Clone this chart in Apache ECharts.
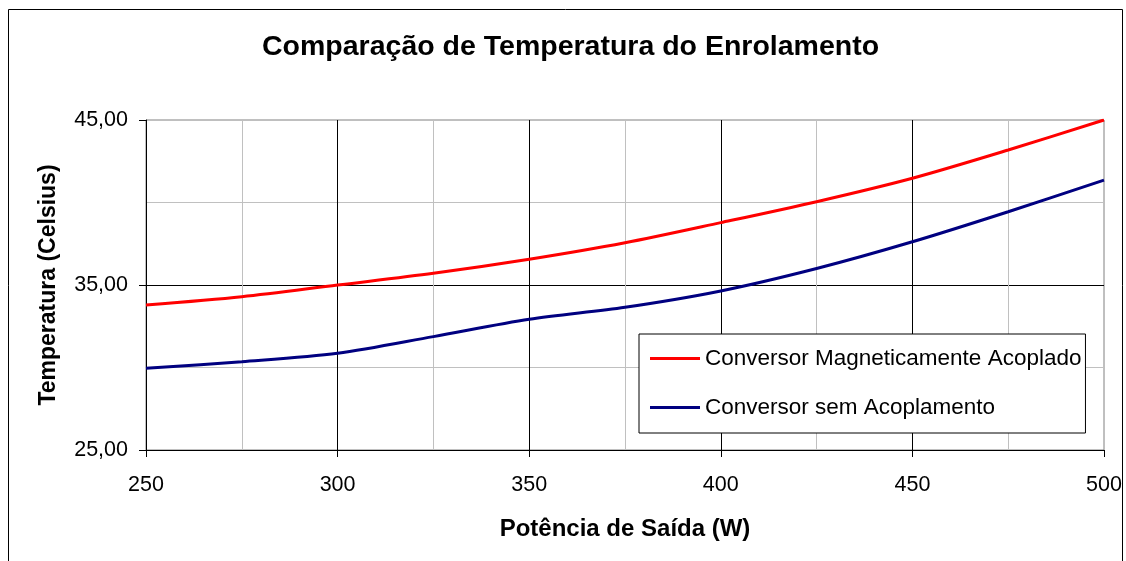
<!DOCTYPE html>
<html>
<head>
<meta charset="utf-8">
<script src="https://cdn.jsdelivr.net/npm/echarts@6/dist/echarts.min.js"></script>
<style>
  html, body { margin: 0; padding: 0; background: #fff; }
  #chart { width: 1126px; height: 561px; }
</style>
</head>
<body>
<div id="chart"></div>
<script>
// Output power (W) and winding temperature (°C) for both converters
const potencia = [250, 275, 300, 325, 350, 375, 400, 425, 450, 475, 500];
const tempAcoplado = [33.79, 34.29, 35.0, 35.71, 36.56, 37.56, 38.78, 40.05, 41.47, 43.18, 45.0];
const tempSemAcoplamento = [29.95, 30.35, 30.86, 31.87, 32.92, 33.65, 34.64, 36.0, 37.62, 39.44, 41.36];
const nomesSeries = ['Conversor Magneticamente Acoplado', 'Conversor sem Acoplamento'];

const FONT = '"Liberation Sans", Arial, sans-serif';
const pares = (ys) => potencia.map((x, i) => [x, ys[i]]);

const chart = echarts.init(document.getElementById('chart'), null, { renderer: 'canvas' });

chart.setOption({
  backgroundColor: '#ffffff',
  animation: false,
  title: {
    text: 'Comparação de Temperatura do Enrolamento',
    left: 262,
    top: 33,
    padding: 0,
    textStyle: { fontFamily: FONT, fontSize: 28.5, fontWeight: 'bold', color: '#000' }
  },
  graphic: [{
    type: 'rect',
    shape: { x: 8.5, y: 9.5, width: 1114, height: 600 },
    style: { fill: 'none', stroke: '#000', lineWidth: 1 },
    silent: true
  }],
  grid: {
    left: 146, right: 22, top: 120, bottom: 111,
    show: true, borderColor: '#808080', borderWidth: 1, backgroundColor: 'transparent'
  },
  legend: {
    orient: 'vertical',
    left: 639, top: 334,
    padding: [13, 4, 14, 11],
    itemGap: 26,
    itemWidth: 50,
    itemHeight: 3,
    icon: 'rect',
    borderColor: '#000', borderWidth: 1,
    backgroundColor: '#fff',
    textStyle: { fontFamily: FONT, fontSize: 22.5, color: '#000' },
    data: nomesSeries
  },
  xAxis: {
    type: 'value',
    min: 250, max: 500, interval: 50,
    name: 'Potência de Saída (W)',
    nameLocation: 'middle',
    nameGap: 67,
    nameTextStyle: { fontFamily: FONT, fontSize: 24, fontWeight: 'bold', color: '#000' },
    axisLine: { show: true, onZero: false, lineStyle: { color: '#000', width: 1 } },
    axisTick: { show: true, inside: false, length: 7, lineStyle: { color: '#000' } },
    axisLabel: { margin: 24, fontFamily: FONT, fontSize: 21.5, color: '#000' },
    splitLine: { show: true, showMinLine: false, showMaxLine: false, lineStyle: { color: '#000', width: 1 } },
    minorTick: { show: false, splitNumber: 2 },
    minorSplitLine: { show: true, lineStyle: { color: '#c0c0c0', width: 1 } }
  },
  yAxis: {
    type: 'value',
    min: 25, max: 45, interval: 10,
    name: 'Temperatura (Celsius)',
    nameLocation: 'middle',
    nameGap: 86,
    nameTextStyle: { fontFamily: FONT, fontSize: 23, fontWeight: 'bold', color: '#000' },
    axisLine: { show: true, onZero: false, lineStyle: { color: '#000', width: 1 } },
    axisTick: { show: true, inside: false, length: 7, lineStyle: { color: '#000' } },
    axisLabel: {
      margin: 18, fontFamily: FONT, fontSize: 21.5, color: '#000',
      formatter: (v) => v.toFixed(2).replace('.', ',')
    },
    splitLine: { show: true, showMinLine: false, showMaxLine: false, lineStyle: { color: '#000', width: 1 } },
    minorTick: { show: false, splitNumber: 2 },
    minorSplitLine: { show: true, lineStyle: { color: '#c0c0c0', width: 1 } }
  },
  series: [
    {
      name: nomesSeries[0],
      type: 'line',
      data: pares(tempAcoplado),
      smooth: 0.3,
      symbol: 'none',
      lineStyle: { color: '#ff0000', width: 3 },
      itemStyle: { color: '#ff0000' },
      z: 3
    },
    {
      name: nomesSeries[1],
      type: 'line',
      data: pares(tempSemAcoplamento),
      smooth: 0.3,
      symbol: 'none',
      lineStyle: { color: '#000080', width: 3 },
      itemStyle: { color: '#000080' },
      z: 3
    }
  ]
});
</script>
</body>
</html>
